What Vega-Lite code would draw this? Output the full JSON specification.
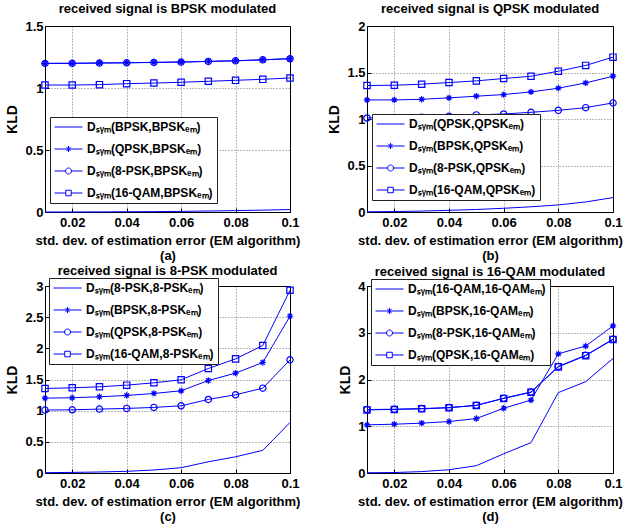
{
  "$schema": "https://vega.github.io/schema/vega-lite/v6.json",
  "padding": {"left": 5, "top": 2, "right": 0, "bottom": 0},
  "datasets": {
    "a": [
      {"x": 0.01, "series": "Dₛᵧₘ(BPSK,BPSKₑₘ)", "y": 0.0},
      {"x": 0.02, "series": "Dₛᵧₘ(BPSK,BPSKₑₘ)", "y": 0.0003},
      {"x": 0.03, "series": "Dₛᵧₘ(BPSK,BPSKₑₘ)", "y": 0.001},
      {"x": 0.04, "series": "Dₛᵧₘ(BPSK,BPSKₑₘ)", "y": 0.002},
      {"x": 0.05, "series": "Dₛᵧₘ(BPSK,BPSKₑₘ)", "y": 0.003},
      {"x": 0.06, "series": "Dₛᵧₘ(BPSK,BPSKₑₘ)", "y": 0.005},
      {"x": 0.07, "series": "Dₛᵧₘ(BPSK,BPSKₑₘ)", "y": 0.008},
      {"x": 0.08, "series": "Dₛᵧₘ(BPSK,BPSKₑₘ)", "y": 0.011},
      {"x": 0.09, "series": "Dₛᵧₘ(BPSK,BPSKₑₘ)", "y": 0.015},
      {"x": 0.10, "series": "Dₛᵧₘ(BPSK,BPSKₑₘ)", "y": 0.02},
      {"x": 0.01, "series": "Dₛᵧₘ(QPSK,BPSKₑₘ)", "y": 1.199},
      {"x": 0.02, "series": "Dₛᵧₘ(QPSK,BPSKₑₘ)", "y": 1.199},
      {"x": 0.03, "series": "Dₛᵧₘ(QPSK,BPSKₑₘ)", "y": 1.202},
      {"x": 0.04, "series": "Dₛᵧₘ(QPSK,BPSKₑₘ)", "y": 1.204},
      {"x": 0.05, "series": "Dₛᵧₘ(QPSK,BPSKₑₘ)", "y": 1.207},
      {"x": 0.06, "series": "Dₛᵧₘ(QPSK,BPSKₑₘ)", "y": 1.210},
      {"x": 0.07, "series": "Dₛᵧₘ(QPSK,BPSKₑₘ)", "y": 1.215},
      {"x": 0.08, "series": "Dₛᵧₘ(QPSK,BPSKₑₘ)", "y": 1.220},
      {"x": 0.09, "series": "Dₛᵧₘ(QPSK,BPSKₑₘ)", "y": 1.228},
      {"x": 0.10, "series": "Dₛᵧₘ(QPSK,BPSKₑₘ)", "y": 1.237},
      {"x": 0.01, "series": "Dₛᵧₘ(8-PSK,BPSKₑₘ)", "y": 1.198},
      {"x": 0.02, "series": "Dₛᵧₘ(8-PSK,BPSKₑₘ)", "y": 1.199},
      {"x": 0.03, "series": "Dₛᵧₘ(8-PSK,BPSKₑₘ)", "y": 1.201},
      {"x": 0.04, "series": "Dₛᵧₘ(8-PSK,BPSKₑₘ)", "y": 1.203},
      {"x": 0.05, "series": "Dₛᵧₘ(8-PSK,BPSKₑₘ)", "y": 1.206},
      {"x": 0.06, "series": "Dₛᵧₘ(8-PSK,BPSKₑₘ)", "y": 1.209},
      {"x": 0.07, "series": "Dₛᵧₘ(8-PSK,BPSKₑₘ)", "y": 1.214},
      {"x": 0.08, "series": "Dₛᵧₘ(8-PSK,BPSKₑₘ)", "y": 1.219},
      {"x": 0.09, "series": "Dₛᵧₘ(8-PSK,BPSKₑₘ)", "y": 1.227},
      {"x": 0.10, "series": "Dₛᵧₘ(8-PSK,BPSKₑₘ)", "y": 1.236},
      {"x": 0.01, "series": "Dₛᵧₘ(16-QAM,BPSKₑₘ)", "y": 1.024},
      {"x": 0.02, "series": "Dₛᵧₘ(16-QAM,BPSKₑₘ)", "y": 1.024},
      {"x": 0.03, "series": "Dₛᵧₘ(16-QAM,BPSKₑₘ)", "y": 1.027},
      {"x": 0.04, "series": "Dₛᵧₘ(16-QAM,BPSKₑₘ)", "y": 1.035},
      {"x": 0.05, "series": "Dₛᵧₘ(16-QAM,BPSKₑₘ)", "y": 1.040},
      {"x": 0.06, "series": "Dₛᵧₘ(16-QAM,BPSKₑₘ)", "y": 1.046},
      {"x": 0.07, "series": "Dₛᵧₘ(16-QAM,BPSKₑₘ)", "y": 1.054},
      {"x": 0.08, "series": "Dₛᵧₘ(16-QAM,BPSKₑₘ)", "y": 1.062},
      {"x": 0.09, "series": "Dₛᵧₘ(16-QAM,BPSKₑₘ)", "y": 1.070},
      {"x": 0.10, "series": "Dₛᵧₘ(16-QAM,BPSKₑₘ)", "y": 1.081}
    ],
    "b": [
      {"x": 0.01, "series": "Dₛᵧₘ(QPSK,QPSKₑₘ)", "y": 0.002},
      {"x": 0.02, "series": "Dₛᵧₘ(QPSK,QPSKₑₘ)", "y": 0.005},
      {"x": 0.03, "series": "Dₛᵧₘ(QPSK,QPSKₑₘ)", "y": 0.01},
      {"x": 0.04, "series": "Dₛᵧₘ(QPSK,QPSKₑₘ)", "y": 0.018},
      {"x": 0.05, "series": "Dₛᵧₘ(QPSK,QPSKₑₘ)", "y": 0.027},
      {"x": 0.06, "series": "Dₛᵧₘ(QPSK,QPSKₑₘ)", "y": 0.04},
      {"x": 0.07, "series": "Dₛᵧₘ(QPSK,QPSKₑₘ)", "y": 0.056},
      {"x": 0.08, "series": "Dₛᵧₘ(QPSK,QPSKₑₘ)", "y": 0.076},
      {"x": 0.09, "series": "Dₛᵧₘ(QPSK,QPSKₑₘ)", "y": 0.108},
      {"x": 0.10, "series": "Dₛᵧₘ(QPSK,QPSKₑₘ)", "y": 0.155},
      {"x": 0.01, "series": "Dₛᵧₘ(BPSK,QPSKₑₘ)", "y": 1.205},
      {"x": 0.02, "series": "Dₛᵧₘ(BPSK,QPSKₑₘ)", "y": 1.205},
      {"x": 0.03, "series": "Dₛᵧₘ(BPSK,QPSKₑₘ)", "y": 1.212},
      {"x": 0.04, "series": "Dₛᵧₘ(BPSK,QPSKₑₘ)", "y": 1.227},
      {"x": 0.05, "series": "Dₛᵧₘ(BPSK,QPSKₑₘ)", "y": 1.245},
      {"x": 0.06, "series": "Dₛᵧₘ(BPSK,QPSKₑₘ)", "y": 1.263},
      {"x": 0.07, "series": "Dₛᵧₘ(BPSK,QPSKₑₘ)", "y": 1.291},
      {"x": 0.08, "series": "Dₛᵧₘ(BPSK,QPSKₑₘ)", "y": 1.331},
      {"x": 0.09, "series": "Dₛᵧₘ(BPSK,QPSKₑₘ)", "y": 1.388},
      {"x": 0.10, "series": "Dₛᵧₘ(BPSK,QPSKₑₘ)", "y": 1.460},
      {"x": 0.01, "series": "Dₛᵧₘ(8-PSK,QPSKₑₘ)", "y": 1.011},
      {"x": 0.02, "series": "Dₛᵧₘ(8-PSK,QPSKₑₘ)", "y": 1.014},
      {"x": 0.03, "series": "Dₛᵧₘ(8-PSK,QPSKₑₘ)", "y": 1.020},
      {"x": 0.04, "series": "Dₛᵧₘ(8-PSK,QPSKₑₘ)", "y": 1.030},
      {"x": 0.05, "series": "Dₛᵧₘ(8-PSK,QPSKₑₘ)", "y": 1.044},
      {"x": 0.06, "series": "Dₛᵧₘ(8-PSK,QPSKₑₘ)", "y": 1.054},
      {"x": 0.07, "series": "Dₛᵧₘ(8-PSK,QPSKₑₘ)", "y": 1.072},
      {"x": 0.08, "series": "Dₛᵧₘ(8-PSK,QPSKₑₘ)", "y": 1.093},
      {"x": 0.09, "series": "Dₛᵧₘ(8-PSK,QPSKₑₘ)", "y": 1.122},
      {"x": 0.10, "series": "Dₛᵧₘ(8-PSK,QPSKₑₘ)", "y": 1.173},
      {"x": 0.01, "series": "Dₛᵧₘ(16-QAM,QPSKₑₘ)", "y": 1.360},
      {"x": 0.02, "series": "Dₛᵧₘ(16-QAM,QPSKₑₘ)", "y": 1.363},
      {"x": 0.03, "series": "Dₛᵧₘ(16-QAM,QPSKₑₘ)", "y": 1.374},
      {"x": 0.04, "series": "Dₛᵧₘ(16-QAM,QPSKₑₘ)", "y": 1.392},
      {"x": 0.05, "series": "Dₛᵧₘ(16-QAM,QPSKₑₘ)", "y": 1.410},
      {"x": 0.06, "series": "Dₛᵧₘ(16-QAM,QPSKₑₘ)", "y": 1.435},
      {"x": 0.07, "series": "Dₛᵧₘ(16-QAM,QPSKₑₘ)", "y": 1.460},
      {"x": 0.08, "series": "Dₛᵧₘ(16-QAM,QPSKₑₘ)", "y": 1.514},
      {"x": 0.09, "series": "Dₛᵧₘ(16-QAM,QPSKₑₘ)", "y": 1.576},
      {"x": 0.10, "series": "Dₛᵧₘ(16-QAM,QPSKₑₘ)", "y": 1.665}
    ],
    "c": [
      {"x": 0.01, "series": "Dₛᵧₘ(8-PSK,8-PSKₑₘ)", "y": 0.005},
      {"x": 0.02, "series": "Dₛᵧₘ(8-PSK,8-PSKₑₘ)", "y": 0.01},
      {"x": 0.03, "series": "Dₛᵧₘ(8-PSK,8-PSKₑₘ)", "y": 0.016},
      {"x": 0.04, "series": "Dₛᵧₘ(8-PSK,8-PSKₑₘ)", "y": 0.027},
      {"x": 0.05, "series": "Dₛᵧₘ(8-PSK,8-PSKₑₘ)", "y": 0.048},
      {"x": 0.06, "series": "Dₛᵧₘ(8-PSK,8-PSKₑₘ)", "y": 0.085},
      {"x": 0.07, "series": "Dₛᵧₘ(8-PSK,8-PSKₑₘ)", "y": 0.18},
      {"x": 0.08, "series": "Dₛᵧₘ(8-PSK,8-PSKₑₘ)", "y": 0.26},
      {"x": 0.09, "series": "Dₛᵧₘ(8-PSK,8-PSKₑₘ)", "y": 0.363},
      {"x": 0.10, "series": "Dₛᵧₘ(8-PSK,8-PSKₑₘ)", "y": 0.81},
      {"x": 0.01, "series": "Dₛᵧₘ(BPSK,8-PSKₑₘ)", "y": 1.201},
      {"x": 0.02, "series": "Dₛᵧₘ(BPSK,8-PSKₑₘ)", "y": 1.207},
      {"x": 0.03, "series": "Dₛᵧₘ(BPSK,8-PSKₑₘ)", "y": 1.223},
      {"x": 0.04, "series": "Dₛᵧₘ(BPSK,8-PSKₑₘ)", "y": 1.244},
      {"x": 0.05, "series": "Dₛᵧₘ(BPSK,8-PSKₑₘ)", "y": 1.276},
      {"x": 0.06, "series": "Dₛᵧₘ(BPSK,8-PSKₑₘ)", "y": 1.319},
      {"x": 0.07, "series": "Dₛᵧₘ(BPSK,8-PSKₑₘ)", "y": 1.484},
      {"x": 0.08, "series": "Dₛᵧₘ(BPSK,8-PSKₑₘ)", "y": 1.602},
      {"x": 0.09, "series": "Dₛᵧₘ(BPSK,8-PSKₑₘ)", "y": 1.773},
      {"x": 0.10, "series": "Dₛᵧₘ(BPSK,8-PSKₑₘ)", "y": 2.515},
      {"x": 0.01, "series": "Dₛᵧₘ(QPSK,8-PSKₑₘ)", "y": 1.009},
      {"x": 0.02, "series": "Dₛᵧₘ(QPSK,8-PSKₑₘ)", "y": 1.014},
      {"x": 0.03, "series": "Dₛᵧₘ(QPSK,8-PSKₑₘ)", "y": 1.025},
      {"x": 0.04, "series": "Dₛᵧₘ(QPSK,8-PSKₑₘ)", "y": 1.036},
      {"x": 0.05, "series": "Dₛᵧₘ(QPSK,8-PSKₑₘ)", "y": 1.052},
      {"x": 0.06, "series": "Dₛᵧₘ(QPSK,8-PSKₑₘ)", "y": 1.078},
      {"x": 0.07, "series": "Dₛᵧₘ(QPSK,8-PSKₑₘ)", "y": 1.180},
      {"x": 0.08, "series": "Dₛᵧₘ(QPSK,8-PSKₑₘ)", "y": 1.255},
      {"x": 0.09, "series": "Dₛᵧₘ(QPSK,8-PSKₑₘ)", "y": 1.361},
      {"x": 0.10, "series": "Dₛᵧₘ(QPSK,8-PSKₑₘ)", "y": 1.815},
      {"x": 0.01, "series": "Dₛᵧₘ(16-QAM,8-PSKₑₘ)", "y": 1.356},
      {"x": 0.02, "series": "Dₛᵧₘ(16-QAM,8-PSKₑₘ)", "y": 1.367},
      {"x": 0.03, "series": "Dₛᵧₘ(16-QAM,8-PSKₑₘ)", "y": 1.383},
      {"x": 0.04, "series": "Dₛᵧₘ(16-QAM,8-PSKₑₘ)", "y": 1.409},
      {"x": 0.05, "series": "Dₛᵧₘ(16-QAM,8-PSKₑₘ)", "y": 1.447},
      {"x": 0.06, "series": "Dₛᵧₘ(16-QAM,8-PSKₑₘ)", "y": 1.495},
      {"x": 0.07, "series": "Dₛᵧₘ(16-QAM,8-PSKₑₘ)", "y": 1.676},
      {"x": 0.08, "series": "Dₛᵧₘ(16-QAM,8-PSKₑₘ)", "y": 1.831},
      {"x": 0.09, "series": "Dₛᵧₘ(16-QAM,8-PSKₑₘ)", "y": 2.045},
      {"x": 0.10, "series": "Dₛᵧₘ(16-QAM,8-PSKₑₘ)", "y": 2.931}
    ],
    "d": [
      {"x": 0.01, "series": "Dₛᵧₘ(16-QAM,16-QAMₑₘ)", "y": 0.005},
      {"x": 0.02, "series": "Dₛᵧₘ(16-QAM,16-QAMₑₘ)", "y": 0.01},
      {"x": 0.03, "series": "Dₛᵧₘ(16-QAM,16-QAMₑₘ)", "y": 0.03},
      {"x": 0.04, "series": "Dₛᵧₘ(16-QAM,16-QAMₑₘ)", "y": 0.07},
      {"x": 0.05, "series": "Dₛᵧₘ(16-QAM,16-QAMₑₘ)", "y": 0.156},
      {"x": 0.06, "series": "Dₛᵧₘ(16-QAM,16-QAMₑₘ)", "y": 0.41},
      {"x": 0.07, "series": "Dₛᵧₘ(16-QAM,16-QAMₑₘ)", "y": 0.65},
      {"x": 0.08, "series": "Dₛᵧₘ(16-QAM,16-QAMₑₘ)", "y": 1.72},
      {"x": 0.09, "series": "Dₛᵧₘ(16-QAM,16-QAMₑₘ)", "y": 1.953},
      {"x": 0.10, "series": "Dₛᵧₘ(16-QAM,16-QAMₑₘ)", "y": 2.45},
      {"x": 0.01, "series": "Dₛᵧₘ(BPSK,16-QAMₑₘ)", "y": 1.030},
      {"x": 0.02, "series": "Dₛᵧₘ(BPSK,16-QAMₑₘ)", "y": 1.044},
      {"x": 0.03, "series": "Dₛᵧₘ(BPSK,16-QAMₑₘ)", "y": 1.066},
      {"x": 0.04, "series": "Dₛᵧₘ(BPSK,16-QAMₑₘ)", "y": 1.101},
      {"x": 0.05, "series": "Dₛᵧₘ(BPSK,16-QAMₑₘ)", "y": 1.165},
      {"x": 0.06, "series": "Dₛᵧₘ(BPSK,16-QAMₑₘ)", "y": 1.385},
      {"x": 0.07, "series": "Dₛᵧₘ(BPSK,16-QAMₑₘ)", "y": 1.56},
      {"x": 0.08, "series": "Dₛᵧₘ(BPSK,16-QAMₑₘ)", "y": 2.55},
      {"x": 0.09, "series": "Dₛᵧₘ(BPSK,16-QAMₑₘ)", "y": 2.716},
      {"x": 0.10, "series": "Dₛᵧₘ(BPSK,16-QAMₑₘ)", "y": 3.147},
      {"x": 0.01, "series": "Dₛᵧₘ(8-PSK,16-QAMₑₘ)", "y": 1.357},
      {"x": 0.02, "series": "Dₛᵧₘ(8-PSK,16-QAMₑₘ)", "y": 1.364},
      {"x": 0.03, "series": "Dₛᵧₘ(8-PSK,16-QAMₑₘ)", "y": 1.378},
      {"x": 0.04, "series": "Dₛᵧₘ(8-PSK,16-QAMₑₘ)", "y": 1.400},
      {"x": 0.05, "series": "Dₛᵧₘ(8-PSK,16-QAMₑₘ)", "y": 1.449},
      {"x": 0.06, "series": "Dₛᵧₘ(8-PSK,16-QAMₑₘ)", "y": 1.599},
      {"x": 0.07, "series": "Dₛᵧₘ(8-PSK,16-QAMₑₘ)", "y": 1.733},
      {"x": 0.08, "series": "Dₛᵧₘ(8-PSK,16-QAMₑₘ)", "y": 2.28},
      {"x": 0.09, "series": "Dₛᵧₘ(8-PSK,16-QAMₑₘ)", "y": 2.518},
      {"x": 0.10, "series": "Dₛᵧₘ(8-PSK,16-QAMₑₘ)", "y": 2.863},
      {"x": 0.01, "series": "Dₛᵧₘ(QPSK,16-QAMₑₘ)", "y": 1.350},
      {"x": 0.02, "series": "Dₛᵧₘ(QPSK,16-QAMₑₘ)", "y": 1.360},
      {"x": 0.03, "series": "Dₛᵧₘ(QPSK,16-QAMₑₘ)", "y": 1.372},
      {"x": 0.04, "series": "Dₛᵧₘ(QPSK,16-QAMₑₘ)", "y": 1.395},
      {"x": 0.05, "series": "Dₛᵧₘ(QPSK,16-QAMₑₘ)", "y": 1.445},
      {"x": 0.06, "series": "Dₛᵧₘ(QPSK,16-QAMₑₘ)", "y": 1.595},
      {"x": 0.07, "series": "Dₛᵧₘ(QPSK,16-QAMₑₘ)", "y": 1.725},
      {"x": 0.08, "series": "Dₛᵧₘ(QPSK,16-QAMₑₘ)", "y": 2.27},
      {"x": 0.09, "series": "Dₛᵧₘ(QPSK,16-QAMₑₘ)", "y": 2.51},
      {"x": 0.10, "series": "Dₛᵧₘ(QPSK,16-QAMₑₘ)", "y": 2.855}
    ]
  },
  "config": {
    "font": "Liberation Sans",
    "view": {"stroke": "#000000", "strokeWidth": 1},
    "axis": {
      "labelFont": "Liberation Sans", "labelFontWeight": "bold", "labelFontSize": 13, "labelColor": "#000000",
      "titleFont": "Liberation Sans", "titleFontWeight": "bold", "titleFontSize": 13, "titleColor": "#000000",
      "domain": false, "gridColor": "#000000", "gridDash": [1, 2], "gridOpacity": 0.55, "gridWidth": 1,
      "tickColor": "#000000", "tickSize": -4, "tickWidth": 1, "labelFlush": false
    },
    "axisX": {"labelPadding": 8, "titlePadding": 5, "titleLineHeight": 15},
    "axisY": {"labelPadding": 6, "titleFontSize": 14, "titlePadding": 5},
    "title": {"font": "Liberation Sans", "fontSize": 13, "fontWeight": "bold", "color": "#000000", "offset": 4},
    "legend": {
      "labelFont": "Liberation Sans", "labelFontWeight": "bold", "labelFontSize": 12, "labelColor": "#000000",
      "labelOffset": 21, "symbolSize": 100, "symbolStrokeWidth": 1, "symbolStrokeColor": "#0000ff",
      "symbolFillColor": "transparent", "symbolOpacity": 1, "fillColor": "#ffffff", "strokeColor": "#222222",
      "padding": 4, "rowPadding": 10, "labelLimit": 400
    }
  },
  "columns": 2,
  "spacing": {"row": 74, "column": 77},
  "bounds": "flush",
  "resolve": {"scale": {"shape": "independent"}, "legend": {"shape": "independent"}},
  "concat": [
    {
      "title": "received signal is BPSK modulated",
      "width": 245, "height": 186,
      "data": {"name": "a"},
      "encoding": {
        "x": {"field": "x", "type": "quantitative", "scale": {"domain": [0.01, 0.1], "nice": false, "zero": false},
              "axis": {"values": [0.02, 0.04, 0.06, 0.08, 0.1], "format": "~g", "title": ["std. dev. of estimation error (EM algorithm)", "(a)"]}},
        "y": {"field": "y", "type": "quantitative", "scale": {"domain": [0, 1.5], "nice": false},
              "axis": {"values": [0, 0.5, 1, 1.5], "format": "~g", "title": "KLD"}}
      },
      "layer": [
        {"mark": {"type": "line", "color": "#0000ff", "strokeWidth": 1}, "encoding": {"detail": {"field": "series"}}},
        {"transform": [{"filter": {"field": "series", "oneOf": ["Dₛᵧₘ(QPSK,BPSKₑₘ)", "Dₛᵧₘ(8-PSK,BPSKₑₘ)", "Dₛᵧₘ(16-QAM,BPSKₑₘ)"]}}],
         "mark": {"type": "point", "filled": false, "color": "#0000ff", "size": 40, "strokeWidth": 1.2, "opacity": 1},
         "encoding": {"shape": {"field": "series", "type": "nominal", "legend": null,
           "scale": {"domain": ["Dₛᵧₘ(QPSK,BPSKₑₘ)", "Dₛᵧₘ(8-PSK,BPSKₑₘ)", "Dₛᵧₘ(16-QAM,BPSKₑₘ)"],
                     "range": ["M0,-1L0,1M-1,0L1,0M-0.7,-0.7L0.7,0.7M-0.7,0.7L0.7,-0.7", "circle", "square"]}}}},
        {"transform": [{"filter": "false"}],
         "mark": {"type": "point", "filled": false, "color": "#0000ff"},
         "encoding": {"x": {"field": "x", "type": "quantitative"}, "y": {"field": "y", "type": "quantitative"},
           "shape": {"field": "series", "type": "nominal",
           "scale": {"domain": ["Dₛᵧₘ(BPSK,BPSKₑₘ)", "Dₛᵧₘ(QPSK,BPSKₑₘ)", "Dₛᵧₘ(8-PSK,BPSKₑₘ)", "Dₛᵧₘ(16-QAM,BPSKₑₘ)"],
                     "range": ["M-1.1,0L4.5,0", "M-1.1,0L4.5,0M1.7,-0.6L1.7,0.6M1.27,-0.43L2.13,0.43M1.27,0.43L2.13,-0.43", "M-1.1,0L1.1,0M2.3,0L4.5,0M2.3,0A0.6,0.6,0,1,1,1.1,0A0.6,0.6,0,1,1,2.3,0", "M-1.1,0L1.15,0M2.25,0L4.5,0M1.15,-0.55L2.25,-0.55L2.25,0.55L1.15,0.55Z"]},
           "legend": {"title": null, "orient": "none", "legendX": 5, "legendY": 91}}}}
      ],
      "resolve": {"scale": {"shape": "independent"}}
    },
    {
      "title": "received signal is QPSK modulated",
      "width": 246, "height": 186,
      "data": {"name": "b"},
      "encoding": {
        "x": {"field": "x", "type": "quantitative", "scale": {"domain": [0.01, 0.1], "nice": false, "zero": false},
              "axis": {"values": [0.02, 0.04, 0.06, 0.08, 0.1], "format": "~g", "title": ["std. dev. of estimation error (EM algorithm)", "(b)"]}},
        "y": {"field": "y", "type": "quantitative", "scale": {"domain": [0, 2], "nice": false},
              "axis": {"values": [0, 0.5, 1, 1.5, 2], "format": "~g", "title": "KLD"}}
      },
      "layer": [
        {"mark": {"type": "line", "color": "#0000ff", "strokeWidth": 1}, "encoding": {"detail": {"field": "series"}}},
        {"transform": [{"filter": {"field": "series", "oneOf": ["Dₛᵧₘ(BPSK,QPSKₑₘ)", "Dₛᵧₘ(8-PSK,QPSKₑₘ)", "Dₛᵧₘ(16-QAM,QPSKₑₘ)"]}}],
         "mark": {"type": "point", "filled": false, "color": "#0000ff", "size": 40, "strokeWidth": 1.2, "opacity": 1},
         "encoding": {"shape": {"field": "series", "type": "nominal", "legend": null,
           "scale": {"domain": ["Dₛᵧₘ(BPSK,QPSKₑₘ)", "Dₛᵧₘ(8-PSK,QPSKₑₘ)", "Dₛᵧₘ(16-QAM,QPSKₑₘ)"],
                     "range": ["M0,-1L0,1M-1,0L1,0M-0.7,-0.7L0.7,0.7M-0.7,0.7L0.7,-0.7", "circle", "square"]}}}},
        {"transform": [{"filter": "false"}],
         "mark": {"type": "point", "filled": false, "color": "#0000ff"},
         "encoding": {"x": {"field": "x", "type": "quantitative"}, "y": {"field": "y", "type": "quantitative"},
           "shape": {"field": "series", "type": "nominal",
           "scale": {"domain": ["Dₛᵧₘ(QPSK,QPSKₑₘ)", "Dₛᵧₘ(BPSK,QPSKₑₘ)", "Dₛᵧₘ(8-PSK,QPSKₑₘ)", "Dₛᵧₘ(16-QAM,QPSKₑₘ)"],
                     "range": ["M-1.1,0L4.5,0", "M-1.1,0L4.5,0M1.7,-0.6L1.7,0.6M1.27,-0.43L2.13,0.43M1.27,0.43L2.13,-0.43", "M-1.1,0L1.1,0M2.3,0L4.5,0M2.3,0A0.6,0.6,0,1,1,1.1,0A0.6,0.6,0,1,1,2.3,0", "M-1.1,0L1.15,0M2.25,0L4.5,0M1.15,-0.55L2.25,-0.55L2.25,0.55L1.15,0.55Z"]},
           "legend": {"title": null, "orient": "none", "legendX": 5, "legendY": 88}}}}
      ],
      "resolve": {"scale": {"shape": "independent"}}
    },
    {
      "title": {"text": "received signal is 8-PSK modulated", "offset": 0},
      "width": 245, "height": 187,
      "data": {"name": "c"},
      "encoding": {
        "x": {"field": "x", "type": "quantitative", "scale": {"domain": [0.01, 0.1], "nice": false, "zero": false},
              "axis": {"values": [0.02, 0.04, 0.06, 0.08, 0.1], "format": "~g", "title": ["std. dev. of estimation error (EM algorithm)", "(c)"]}},
        "y": {"field": "y", "type": "quantitative", "scale": {"domain": [0, 3], "nice": false},
              "axis": {"values": [0, 0.5, 1, 1.5, 2, 2.5, 3], "format": "~g", "title": "KLD"}}
      },
      "layer": [
        {"mark": {"type": "line", "color": "#0000ff", "strokeWidth": 1}, "encoding": {"detail": {"field": "series"}}},
        {"transform": [{"filter": {"field": "series", "oneOf": ["Dₛᵧₘ(BPSK,8-PSKₑₘ)", "Dₛᵧₘ(QPSK,8-PSKₑₘ)", "Dₛᵧₘ(16-QAM,8-PSKₑₘ)"]}}],
         "mark": {"type": "point", "filled": false, "color": "#0000ff", "size": 40, "strokeWidth": 1.2, "opacity": 1},
         "encoding": {"shape": {"field": "series", "type": "nominal", "legend": null,
           "scale": {"domain": ["Dₛᵧₘ(BPSK,8-PSKₑₘ)", "Dₛᵧₘ(QPSK,8-PSKₑₘ)", "Dₛᵧₘ(16-QAM,8-PSKₑₘ)"],
                     "range": ["M0,-1L0,1M-1,0L1,0M-0.7,-0.7L0.7,0.7M-0.7,0.7L0.7,-0.7", "circle", "square"]}}}},
        {"transform": [{"filter": "false"}],
         "mark": {"type": "point", "filled": false, "color": "#0000ff"},
         "encoding": {"x": {"field": "x", "type": "quantitative"}, "y": {"field": "y", "type": "quantitative"},
           "shape": {"field": "series", "type": "nominal",
           "scale": {"domain": ["Dₛᵧₘ(8-PSK,8-PSKₑₘ)", "Dₛᵧₘ(BPSK,8-PSKₑₘ)", "Dₛᵧₘ(QPSK,8-PSKₑₘ)", "Dₛᵧₘ(16-QAM,8-PSKₑₘ)"],
                     "range": ["M-1.1,0L4.5,0", "M-1.1,0L4.5,0M1.7,-0.6L1.7,0.6M1.27,-0.43L2.13,0.43M1.27,0.43L2.13,-0.43", "M-1.1,0L1.1,0M2.3,0L4.5,0M2.3,0A0.6,0.6,0,1,1,1.1,0A0.6,0.6,0,1,1,2.3,0", "M-1.1,0L1.15,0M2.25,0L4.5,0M1.15,-0.55L2.25,-0.55L2.25,0.55L1.15,0.55Z"]},
           "legend": {"title": null, "orient": "none", "legendX": 4, "legendY": -8}}}}
      ],
      "resolve": {"scale": {"shape": "independent"}}
    },
    {
      "title": {"text": "received signal is 16-QAM modulated", "offset": 0},
      "width": 246, "height": 187,
      "data": {"name": "d"},
      "encoding": {
        "x": {"field": "x", "type": "quantitative", "scale": {"domain": [0.01, 0.1], "nice": false, "zero": false},
              "axis": {"values": [0.02, 0.04, 0.06, 0.08, 0.1], "format": "~g", "title": ["std. dev. of estimation error (EM algorithm)", "(d)"]}},
        "y": {"field": "y", "type": "quantitative", "scale": {"domain": [0, 4], "nice": false},
              "axis": {"values": [0, 1, 2, 3, 4], "format": "~g", "title": "KLD"}}
      },
      "layer": [
        {"mark": {"type": "line", "color": "#0000ff", "strokeWidth": 1}, "encoding": {"detail": {"field": "series"}}},
        {"transform": [{"filter": {"field": "series", "oneOf": ["Dₛᵧₘ(BPSK,16-QAMₑₘ)", "Dₛᵧₘ(8-PSK,16-QAMₑₘ)", "Dₛᵧₘ(QPSK,16-QAMₑₘ)"]}}],
         "mark": {"type": "point", "filled": false, "color": "#0000ff", "size": 40, "strokeWidth": 1.2, "opacity": 1},
         "encoding": {"shape": {"field": "series", "type": "nominal", "legend": null,
           "scale": {"domain": ["Dₛᵧₘ(BPSK,16-QAMₑₘ)", "Dₛᵧₘ(8-PSK,16-QAMₑₘ)", "Dₛᵧₘ(QPSK,16-QAMₑₘ)"],
                     "range": ["M0,-1L0,1M-1,0L1,0M-0.7,-0.7L0.7,0.7M-0.7,0.7L0.7,-0.7", "circle", "square"]}}}},
        {"transform": [{"filter": "false"}],
         "mark": {"type": "point", "filled": false, "color": "#0000ff"},
         "encoding": {"x": {"field": "x", "type": "quantitative"}, "y": {"field": "y", "type": "quantitative"},
           "shape": {"field": "series", "type": "nominal",
           "scale": {"domain": ["Dₛᵧₘ(16-QAM,16-QAMₑₘ)", "Dₛᵧₘ(BPSK,16-QAMₑₘ)", "Dₛᵧₘ(8-PSK,16-QAMₑₘ)", "Dₛᵧₘ(QPSK,16-QAMₑₘ)"],
                     "range": ["M-1.1,0L4.5,0", "M-1.1,0L4.5,0M1.7,-0.6L1.7,0.6M1.27,-0.43L2.13,0.43M1.27,0.43L2.13,-0.43", "M-1.1,0L1.1,0M2.3,0L4.5,0M2.3,0A0.6,0.6,0,1,1,1.1,0A0.6,0.6,0,1,1,2.3,0", "M-1.1,0L1.15,0M2.25,0L4.5,0M1.15,-0.55L2.25,-0.55L2.25,0.55L1.15,0.55Z"]},
           "legend": {"title": null, "orient": "none", "legendX": 4, "legendY": -7}}}}
      ],
      "resolve": {"scale": {"shape": "independent"}}
    }
  ]
}
